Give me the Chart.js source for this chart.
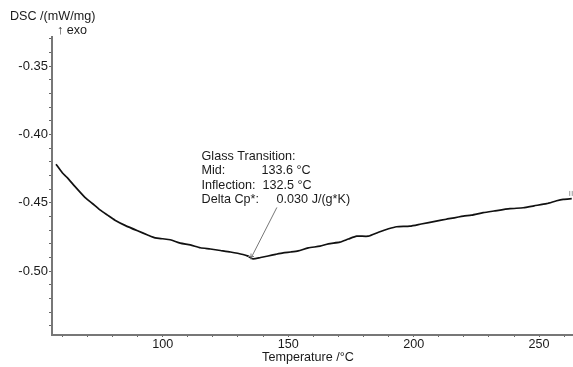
<!DOCTYPE html>
<html><head><meta charset="utf-8">
<script src="https://cdn.jsdelivr.net/npm/chart.js@4.4.0/dist/chart.umd.min.js"></script>
<style>html,body{margin:0;padding:0;background:#fff}</style>
</head><body>
<canvas id="c" width="573" height="367"></canvas>
<script>
const temperature = [57.5,60,62,65,69,72,75,78,81,85,90,94,97,100,103,107,111,115,119,123,127,132,134,136,139,142,145,148,151,154,158,162.7,166,170.6,174,177.3,181.9,186,190,193.2,198.5,203,209,213,219.8,223,227.7,232,238.4,243.7,248,253,257,259.6,263];
const dsc = [-0.4218,-0.4280,-0.4316,-0.4380,-0.4460,-0.4505,-0.4552,-0.4590,-0.4627,-0.4665,-0.4705,-0.4735,-0.4756,-0.4763,-0.4770,-0.4795,-0.4808,-0.4829,-0.4838,-0.4849,-0.4860,-0.4878,-0.4890,-0.4910,-0.4900,-0.4889,-0.4877,-0.4866,-0.4860,-0.4852,-0.4830,-0.4817,-0.4800,-0.4788,-0.4765,-0.4744,-0.4744,-0.4715,-0.4690,-0.4675,-0.4671,-0.4655,-0.4634,-0.4620,-0.4597,-0.4590,-0.4572,-0.4560,-0.4543,-0.4536,-0.4522,-0.4506,-0.4485,-0.4475,-0.4470];
const annotationLabels = ["Glass Transition:", "Mid:", "Inflection:", "Delta Cp*:"];
const annotationValues = ["", "133.6 °C", "132.5 °C", "0.030 J/(g*K)"];
const yTitle = "DSC /(mW/mg)";
const ySubTitle = "↑ exo";
const xTitle = "Temperature /°C";

const FONT = '"Liberation Sans", Arial, sans-serif';
const points = temperature.map((t, i) => ({x: t, y: dsc[i]}));

const overlay = {
  id: 'overlay',
  afterDraw(chart) {
    const ctx = chart.ctx, xs = chart.scales.x, ys = chart.scales.y;
    ctx.save();
    ctx.fillStyle = '#1a1a1a';
    ctx.font = '12.6px ' + FONT;
    ctx.textBaseline = 'middle';
    ctx.textAlign = 'left';
    ctx.fillText(yTitle, 10, 17);
    ctx.fillText(ySubTitle, 57, 31);
    ctx.textAlign = 'center';
    ctx.fillText(xTitle, 308, 358);
    // annotation text
    ctx.textAlign = 'left';
    ctx.textBaseline = 'alphabetic';
    const tx = xs.getPixelForValue(115.5);
    const ty = ys.getPixelForValue(-0.4185);
    const valX = [0, xs.getPixelForValue(139.4), xs.getPixelForValue(139.8), xs.getPixelForValue(145.4)];
    annotationLabels.forEach((l, i) => {
      ctx.fillText(l, tx, ty + i * 14.5);
      if (annotationValues[i]) ctx.fillText(annotationValues[i], valX[i], ty + i * 14.5);
    });
    // leader line
    ctx.strokeStyle = '#777';
    ctx.lineWidth = 1;
    ctx.beginPath();
    ctx.moveTo(xs.getPixelForValue(145.5), ys.getPixelForValue(-0.4534));
    ctx.lineTo(xs.getPixelForValue(135.6), ys.getPixelForValue(-0.4890));
    ctx.stroke();
    // cross marker
    const cx = xs.getPixelForValue(135.2), cy = ys.getPixelForValue(-0.4893);
    ctx.beginPath();
    ctx.moveTo(cx - 3, cy); ctx.lineTo(cx + 3, cy);
    ctx.moveTo(cx, cy - 3); ctx.lineTo(cx, cy + 3);
    ctx.stroke();
    // end marker
    const ex = xs.getPixelForValue(262.6), ey = ys.getPixelForValue(-0.4435);
    ctx.strokeStyle = '#999';
    ctx.beginPath();
    ctx.moveTo(ex - 1, ey - 3); ctx.lineTo(ex - 1, ey + 2);
    ctx.moveTo(ex + 1.5, ey - 3); ctx.lineTo(ex + 1.5, ey + 2);
    ctx.stroke();
    ctx.restore();
  }
};

new Chart(document.getElementById('c'), {
  type: 'line',
  data: {
    datasets: [{
      data: points,
      borderColor: '#111',
      borderWidth: 1.7,
      pointRadius: 0,
      tension: 0.2,
      fill: false
    }]
  },
  options: {
    responsive: false,
    animation: false,
    devicePixelRatio: 1,
    layout: {padding: {top: 37, right: 0, left: 0, bottom: 0}},
    plugins: {legend: {display: false}, tooltip: {enabled: false}},
    scales: {
      x: {
        type: 'linear',
        min: 55.9,
        max: 263.5,
        afterFit: s => { s.height = 32; },
        border: {color: '#777', width: 2},
        grid: {drawOnChartArea: false, drawTicks: true, tickLength: 2, tickColor: '#666'},
        ticks: {
          stepSize: 10,
          includeBounds: false,
          autoSkip: false,
          maxRotation: 0,
          padding: 0,
          color: '#1a1a1a',
          font: {size: 12.6, family: FONT},
          callback: v => (Math.abs(v % 50) < 1e-6 ? String(v) : '')
        }
      },
      y: {
        min: -0.5467,
        max: -0.3287,
        afterFit: s => { s.width = 52; },
        border: {color: '#777', width: 2},
        grid: {drawOnChartArea: false, drawTicks: true, tickLength: 3, tickColor: '#666'},
        ticks: {
          stepSize: 0.01,
          includeBounds: false,
          autoSkip: false,
          padding: 1,
          color: '#1a1a1a',
          font: {size: 13, family: FONT},
          callback: v => (Math.abs(v * 20 - Math.round(v * 20)) < 1e-6 ? v.toFixed(2) : '')
        }
      }
    }
  },
  plugins: [overlay]
});
</script>
</body></html>
